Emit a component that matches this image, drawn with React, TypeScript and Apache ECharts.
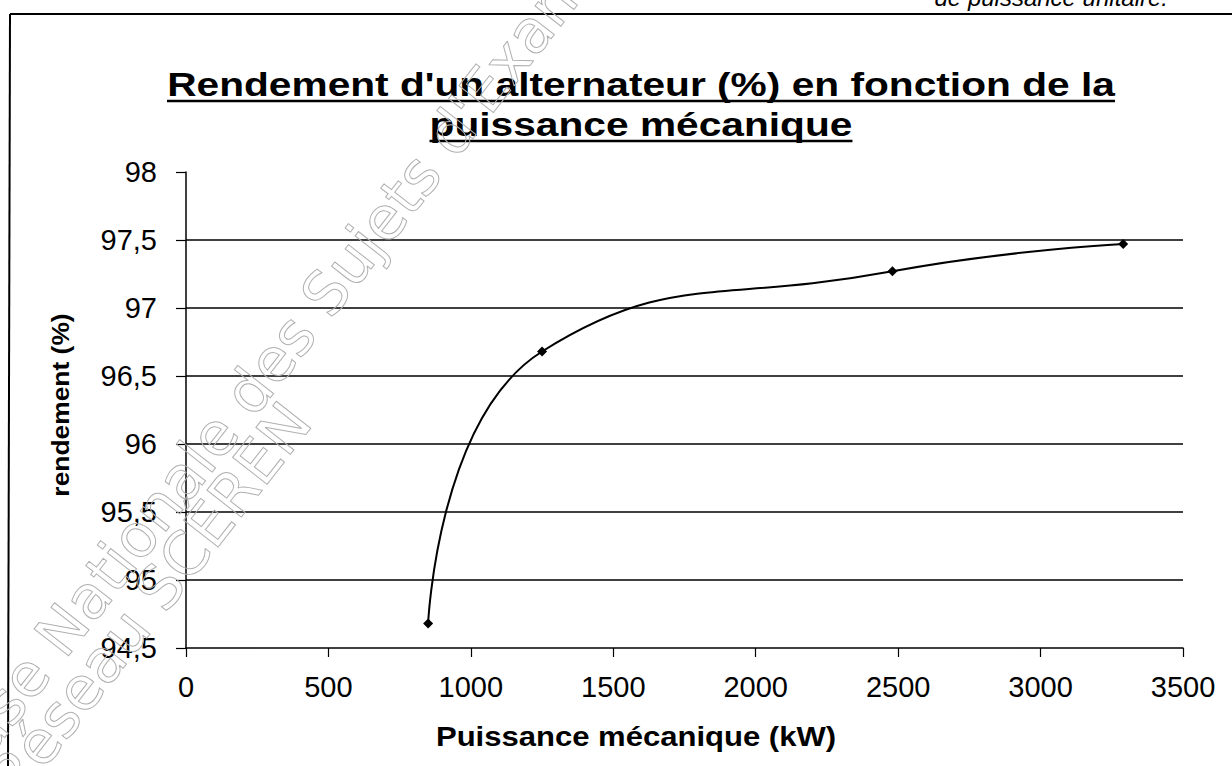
import React, { useEffect, useRef } from "react";
import * as echarts from "echarts";

// ---- Data ----
const puissanceKW = [850, 1250, 2480, 3290];
const rendementPct = [94.68, 96.68, 97.27, 97.47];
const gridValues = [95, 95.5, 96, 96.5, 97, 97.5];
const xTicks = { min: 0, max: 3500, interval: 500 };
const yTicks = { min: 94.5, max: 98, interval: 0.5 };
const titleLines = [
  "Rendement d'un alternateur (%) en fonction de la",
  "puissance mécanique",
];
const xAxisTitle = "Puissance mécanique (kW)";
const yAxisTitle = "rendement (%)";
const watermarkLines = ["Base Nationale des Sujets d'Examen", "Réseau SCÉREN"];
const headerFragment = "de puissance unitaire.";

const FONT = "'Liberation Sans', Arial, Helvetica, sans-serif";

export default function App() {
  const ref = useRef<HTMLDivElement>(null);

  useEffect(() => {
    const el = ref.current;
    if (!el) return;
    const chart = echarts.init(el, null, { renderer: "svg" });

    const ctx = document.createElement("canvas").getContext("2d")!;
    const measure = (t: string, size: number, weight = "bold") => {
      ctx.font = `${weight} ${size}px 'Liberation Sans'`;
      return ctx.measureText(t).width;
    };

    const titleSize = 34;
    const titleTarget = 948;
    const sx = titleTarget / measure(titleLines[0], titleSize);
    const tw1 = titleTarget;
    const tw2 = measure(titleLines[1], titleSize) * sx;
    const cx = 641;
    const t1y = 84;
    const t2y = 124;

    const xtSize = 27;
    const xtScale = 1.15;

    const seriesData = puissanceKW.map((x, i) => [x, rendementPct[i]]);

    const deg = Math.PI / 180;
    const wmFont = "normal 60px 'DejaVu Sans', Lato, sans-serif";

    chart.setOption({
      animation: false,
      backgroundColor: "#ffffff",
      grid: { left: 186, right: 49, top: 172, bottom: 118, containLabel: false },
      xAxis: {
        type: "value",
        min: xTicks.min,
        max: xTicks.max,
        interval: xTicks.interval,
        axisLine: { show: true, lineStyle: { color: "#000", width: 1.5 } },
        axisTick: { show: true, length: 9, lineStyle: { color: "#000", width: 1.2 } },
        axisLabel: {
          color: "#000",
          fontFamily: FONT,
          fontSize: 29,
          margin: 24,
          formatter: (v: number) => String(v),
        },
        splitLine: { show: false },
      },
      yAxis: {
        type: "value",
        min: yTicks.min,
        max: yTicks.max,
        interval: yTicks.interval,
        axisLine: { show: true, lineStyle: { color: "#000", width: 1.5 } },
        axisTick: { show: true, length: 10, lineStyle: { color: "#000", width: 1.2 } },
        axisLabel: {
          color: "#000",
          fontFamily: FONT,
          fontSize: 29,
          margin: 29,
          formatter: (v: number) => String(v).replace(".", ","),
        },
        splitLine: { show: false },
      },
      series: [
        {
          type: "line",
          data: seriesData,
          smooth: 0.5,
          symbol: "diamond",
          symbolSize: 10,
          showSymbol: true,
          lineStyle: { color: "#000", width: 2 },
          itemStyle: { color: "#000" },
          markLine: {
            silent: true,
            symbol: ["none", "none"],
            label: { show: false },
            lineStyle: { color: "#000", type: "solid", width: 1.5 },
            data: gridValues.map((v) => ({ yAxis: v })),
          },
          z: 5,
        },
      ],
      graphic: [
        // watermark
        {
          type: "text",
          x: 285,
          y: 345,
          rotation: 52 * deg,
          z: 100,
          silent: true,
          style: {
            text: watermarkLines[0],
            font: wmFont,
            textAlign: "center",
            textVerticalAlign: "middle",
            fill: "rgba(0,0,0,0)",
            stroke: "#b0b0b0",
            lineWidth: 1,
          },
        },
        {
          type: "text",
          x: 150,
          y: 600,
          rotation: 52 * deg,
          z: 100,
          silent: true,
          style: {
            text: watermarkLines[1],
            font: wmFont,
            textAlign: "center",
            textVerticalAlign: "middle",
            fill: "rgba(0,0,0,0)",
            stroke: "#b0b0b0",
            lineWidth: 1,
          },
        },
        // frame
        {
          type: "line",
          shape: { x1: 10, y1: 14, x2: 1232, y2: 14 },
          style: { stroke: "#000", lineWidth: 2 },
        },
        {
          type: "line",
          shape: { x1: 10, y1: 14, x2: 8, y2: 766 },
          style: { stroke: "#000", lineWidth: 2 },
        },
        // cut-off header text
        {
          type: "text",
          x: 1168,
          y: 9,
          style: {
            text: headerFragment,
            font: `italic 24px ${FONT}`,
            textAlign: "right",
            textVerticalAlign: "bottom",
            fill: "#000",
          },
        },
        // title
        {
          type: "text",
          x: cx,
          y: t1y,
          scaleX: sx,
          style: {
            text: titleLines[0],
            font: `bold ${titleSize}px ${FONT}`,
            textAlign: "center",
            textVerticalAlign: "middle",
            fill: "#000",
          },
        },
        {
          type: "line",
          shape: { x1: cx - tw1 / 2, y1: t1y + 17, x2: cx + tw1 / 2, y2: t1y + 17 },
          style: { stroke: "#000", lineWidth: 2.5 },
        },
        {
          type: "text",
          x: cx,
          y: t2y,
          scaleX: sx,
          style: {
            text: titleLines[1],
            font: `bold ${titleSize}px ${FONT}`,
            textAlign: "center",
            textVerticalAlign: "middle",
            fill: "#000",
          },
        },
        {
          type: "line",
          shape: { x1: cx - tw2 / 2, y1: t2y + 17, x2: cx + tw2 / 2, y2: t2y + 17 },
          style: { stroke: "#000", lineWidth: 2.5 },
        },
        // x axis title
        {
          type: "text",
          x: 636,
          y: 737,
          scaleX: xtScale,
          style: {
            text: xAxisTitle,
            font: `bold ${xtSize}px ${FONT}`,
            textAlign: "center",
            textVerticalAlign: "middle",
            fill: "#000",
          },
        },
        // y axis title
        {
          type: "text",
          x: 60,
          y: 405,
          rotation: 90 * deg,
          scaleX: 1.1,
          style: {
            text: yAxisTitle,
            font: `bold 24px ${FONT}`,
            textAlign: "center",
            textVerticalAlign: "middle",
            fill: "#000",
          },
        },
      ],
    });

    return () => chart.dispose();
  }, []);

  return (
    <div
      ref={ref}
      style={{
        position: "fixed",
        left: 0,
        top: 0,
        width: 1232,
        height: 766,
        background: "#fff",
      }}
    />
  );
}
